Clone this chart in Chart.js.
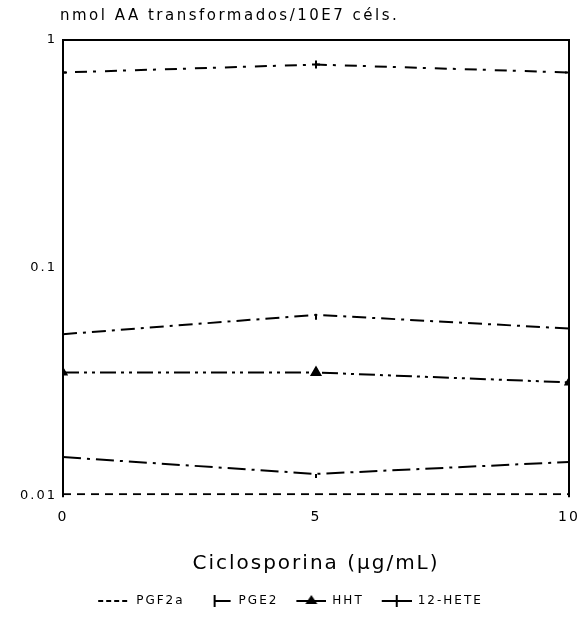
<!DOCTYPE html>
<html>
<head>
<meta charset="utf-8">
<script src="https://cdn.jsdelivr.net/npm/chart.js@4"></script>
<style>
  html, body { margin: 0; padding: 0; background: #fff; }
  #wrap { width: 578px; height: 617px; position: relative; }
</style>
</head>
<body>
<div id="wrap"><canvas id="chart1"></canvas></div>
<script>
// ciclosporina doses (ug/mL)
var doses = [0, 5, 10];
var xTicks = [0, 5, 10];
var yTicks = [0.01, 0.1, 1];

// nmol AA transformados / 10E7 cels
var hete12 = [0.72, 0.78, 0.72];
var pge2 = [0.051, 0.062, 0.054];
var hht = [0.0346, 0.0346, 0.0313];
var otro = [0.0147, 0.0124, 0.014];
var pgf2a = [0.0101, 0.0101, 0.0101];

var legendNames = ["PGF2a", "PGE2", "HHT", "12-HETE"];

function toPoints(values) {
  return values.map(function (v, i) {
    return { x: doses[i], y: v };
  });
}

var fontFam = "'DejaVu Sans', 'Liberation Sans', Arial, sans-serif";
var spacing = "2px";

// little legend pictures: line + marker, drawn on the right part of the box
function makeIcon(kind) {
  var c = document.createElement("canvas");
  c.width = 44;
  c.height = 14;
  var g = c.getContext("2d");
  g.strokeStyle = "#000";
  g.fillStyle = "#000";
  g.lineWidth = 2;
  var y = 7;
  if (kind == "dash") {
    g.setLineDash([5, 3]);
    g.beginPath(); g.moveTo(12, y); g.lineTo(44, y); g.stroke();
  } else if (kind == "tick") {
    g.beginPath(); g.moveTo(26, y); g.lineTo(42, y); g.stroke();
    g.beginPath(); g.moveTo(26, 1); g.lineTo(26, 13); g.stroke();
  } else if (kind == "tri") {
    g.beginPath(); g.moveTo(14, y); g.lineTo(44, y); g.stroke();
    g.beginPath(); g.moveTo(29, 1); g.lineTo(35, 10); g.lineTo(23, 10); g.closePath(); g.fill();
  } else if (kind == "cross") {
    g.beginPath(); g.moveTo(14, y); g.lineTo(44, y); g.stroke();
    g.beginPath(); g.moveTo(29, 1); g.lineTo(29, 13); g.stroke();
  }
  return c;
}
var legendIcons = [makeIcon("dash"), makeIcon("tick"), makeIcon("tri"), makeIcon("cross")];

var datasets = [
  {
    label: legendNames[0],
    data: toPoints(pgf2a),
    borderColor: "#000",
    backgroundColor: "#000",
    borderWidth: 2,
    borderDash: [8, 6],
    pointStyle: "line",
    pointRadius: 0,
  },
  {
    label: legendNames[1],
    data: toPoints(pge2),
    borderColor: "#000",
    backgroundColor: "#000",
    borderWidth: 2,
    borderDash: [14, 6, 3, 6],
    pointStyle: "dash",
    rotation: 90,
    pointRadius: [0, 5, 0],
  },
  {
    label: legendNames[2],
    data: toPoints(hht),
    borderColor: "#000",
    backgroundColor: "#000",
    borderWidth: 2,
    borderDash: [16, 5, 3, 5, 3, 5],
    pointStyle: "triangle",
    pointRadius: [4, 5, 4],
  },
  {
    label: legendNames[3],
    data: toPoints(hete12),
    borderColor: "#000",
    backgroundColor: "#000",
    borderWidth: 2,
    borderDash: [3, 9, 12, 6],
    pointStyle: "cross",
    pointRadius: [4, 4, 4],
  },
  {
    label: "",
    data: toPoints(otro),
    borderColor: "#000",
    backgroundColor: "#000",
    borderWidth: 2,
    borderDash: [18, 6, 3, 6],
    pointStyle: "dash",
    rotation: 90,
    pointRadius: [0, 4, 0],
  },
];

// wide letter spacing like the scanned original
var spacingPlugin = {
  id: "spacing",
  beforeUpdate: function (chart) {
    chart.ctx.letterSpacing = spacing;
  },
  beforeDraw: function (chart) {
    chart.ctx.letterSpacing = spacing;
  },
};

// frame (left, top, right) and title text above the plot
var framePlugin = {
  id: "frame",
  afterDraw: function (chart) {
    var a = chart.chartArea;
    var ctx = chart.ctx;
    ctx.save();
    ctx.strokeStyle = "#000";
    ctx.lineWidth = 2;
    ctx.beginPath();
    ctx.moveTo(a.left, a.bottom + 2);
    ctx.lineTo(a.left, a.top);
    ctx.lineTo(a.right, a.top);
    ctx.lineTo(a.right, a.bottom + 2);
    ctx.stroke();
    ctx.fillStyle = "#000";
    ctx.font = "15px " + fontFam;
    ctx.letterSpacing = "2.5px";
    ctx.textBaseline = "middle";
    ctx.textAlign = "left";
    ctx.fillText("nmol AA transformados/10E7 céls.", a.left - 3, 16);
    ctx.restore();
  },
};

var defaultLabels = Chart.defaults.plugins.legend.labels.generateLabels;

var ctx = document.getElementById("chart1").getContext("2d");
var myChart = new Chart(ctx, {
  type: "line",
  data: { datasets: datasets },
  options: {
    responsive: true,
    maintainAspectRatio: false,
    animation: false,
    layout: { padding: { top: 40, right: 9, left: 0, bottom: 0 } },
    scales: {
      x: {
        type: "linear",
        min: 0,
        max: 10,
        afterBuildTicks: function (scale) {
          scale.ticks = xTicks.map(function (v) { return { value: v }; });
        },
        afterFit: function (scale) {
          scale.paddingLeft = 0;
          scale.paddingRight = 0;
        },
        grid: { display: false, drawTicks: false },
        border: { display: false },
        ticks: {
          color: "#000",
          font: { family: fontFam, size: 14 },
          padding: 14,
        },
        title: {
          display: true,
          text: "Ciclosporina (µg/mL)",
          color: "#000",
          font: { family: fontFam, size: 20 },
          padding: { top: 12, bottom: 15 },
        },
      },
      y: {
        type: "logarithmic",
        min: 0.01,
        max: 1,
        afterBuildTicks: function (scale) {
          scale.ticks = yTicks.map(function (v) { return { value: v }; });
        },
        afterFit: function (scale) {
          scale.width = 63;
        },
        grid: { display: false, drawTicks: true, tickLength: 4, tickColor: "#000" },
        border: { display: true, color: "#000", width: 2 },
        ticks: {
          color: "#000",
          font: { family: fontFam, size: 13 },
          padding: 2,
          callback: function (v) {
            if (v === 1) return "1";
            if (v === 0.1) return "0.1";
            if (v === 0.01) return "0.01";
            return "";
          },
        },
      },
    },
    plugins: {
      legend: {
        position: "bottom",
        labels: {
          color: "#000",
          font: { family: fontFam, size: 12 },
          usePointStyle: true,
          pointStyleWidth: 44,
          padding: 4,
          generateLabels: function (chart) {
            var items = defaultLabels(chart);
            items.forEach(function (item, i) {
              if (legendIcons[i]) {
                item.pointStyle = legendIcons[i];
                item.rotation = 0;
              }
            });
            return items;
          },
          filter: function (item) {
            return item.text !== "";
          },
        },
      },
      tooltip: { enabled: false },
    },
  },
  plugins: [spacingPlugin, framePlugin],
});
</script>
</body>
</html>
